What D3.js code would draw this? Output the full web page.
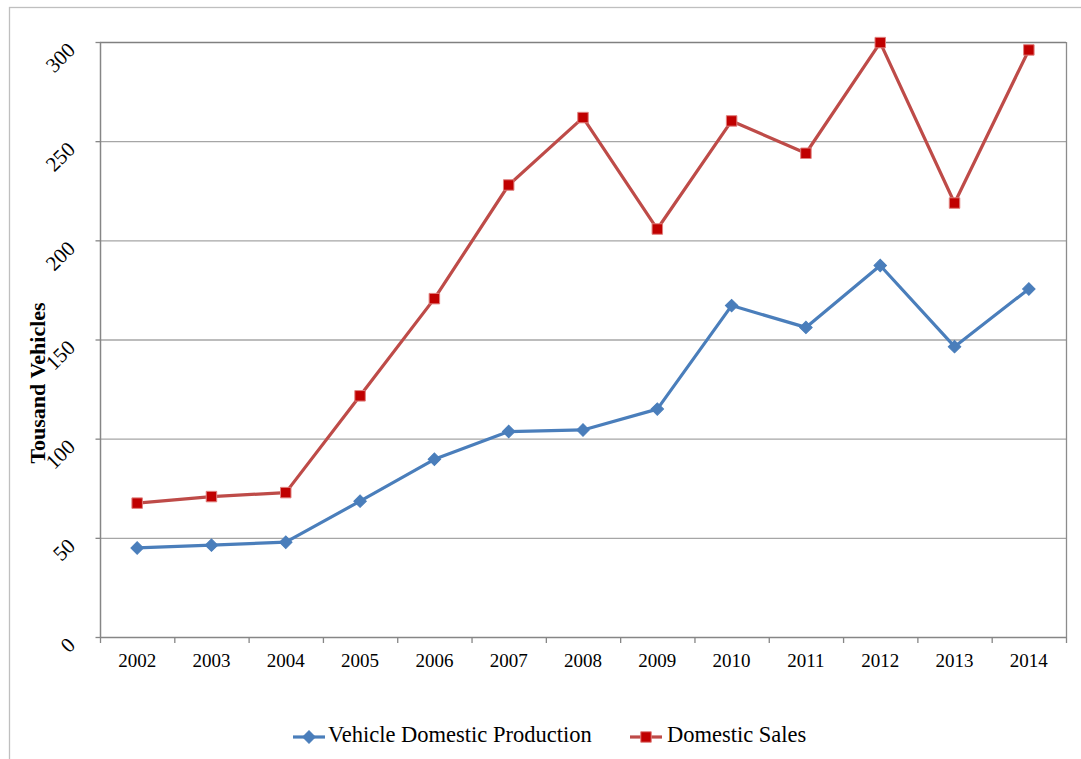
<!DOCTYPE html>
<html>
<head>
<meta charset="utf-8">
<script src="https://cdn.jsdelivr.net/npm/d3@7"></script>
<style>
  html, body { margin: 0; padding: 0; background: #fff; }
  svg { display: block; }
  text { font-family: "Liberation Serif", "Times New Roman", serif; fill: #000; }
</style>
</head>
<body>
<svg id="chart" width="1081" height="759"></svg>
<script>
// Vehicle production and sales, thousand units
const years = ["2002","2003","2004","2005","2006","2007","2008","2009","2010","2011","2012","2013","2014"];
const production = [44.9, 46.3, 47.8, 68.5, 89.6, 103.6, 104.4, 114.9, 167.1, 156.1, 187.3, 146.4, 175.5];
const sales = [67.5, 70.8, 72.8, 121.6, 170.6, 227.9, 261.9, 205.7, 260.2, 243.9, 299.7, 218.8, 296.0];
const yTicks = [0, 50, 100, 150, 200, 250, 300];
const seriesNames = ["Vehicle Domestic Production", "Domestic Sales"];

const svg = d3.select("#chart");
const W = 1081, H = 759;
const m = { left: 100, top: 42, right: 1066, bottom: 637 };

// outer chart frame
svg.append("rect")
  .attr("x", 9.5).attr("y", 7.5)
  .attr("width", W + 20).attr("height", H + 20)
  .attr("fill", "#fff").attr("stroke", "#bfbfbf").attr("stroke-width", 1.3);

const x = d3.scaleBand().domain(years).range([m.left, m.right]).paddingInner(0).paddingOuter(0);
const y = d3.scaleLinear().domain([0, 300]).range([m.bottom, m.top]);

// horizontal gridlines
svg.append("g")
  .selectAll("line").data(yTicks.filter(d => d > 0)).join("line")
  .attr("x1", m.left).attr("x2", m.right)
  .attr("y1", d => y(d) + 0.5).attr("y2", d => y(d) + 0.5)
  .attr("stroke", d => d === 300 ? "#808080" : "#a6a6a6").attr("stroke-width", 1.3);

// right edge of plot area
svg.append("line")
  .attr("x1", m.right + 0.5).attr("x2", m.right + 0.5)
  .attr("y1", m.top).attr("y2", m.bottom)
  .attr("stroke", "#8c8c8c").attr("stroke-width", 1.3);

// y axis
const yAxis = svg.append("g").attr("transform", `translate(${m.left + 0.5},0)`)
  .call(d3.axisLeft(y).tickValues(yTicks).tickSize(5).tickFormat(""));
yAxis.select(".domain").attr("stroke", "#868686").attr("stroke-width", 1.5).attr("d", `M0,${m.top}V${m.bottom + 0.5}`);
yAxis.selectAll(".tick line").attr("stroke", "#868686").attr("stroke-width", 1.3);

svg.append("g").selectAll("text").data(yTicks).join("text")
  .attr("transform", d => `translate(73,${y(d) + 6}) rotate(-45)`)
  .attr("text-anchor", "end")
  .attr("dominant-baseline", "middle")
  .style("font-size", "21px")
  .text(d => d);

// x axis
const xAxis = svg.append("g").attr("transform", `translate(0,${m.bottom + 0.5})`)
  .call(d3.axisBottom(x).tickSize(0).tickFormat(""));
xAxis.select(".domain").attr("stroke", "#868686").attr("stroke-width", 1.5).attr("d", `M${m.left},0H${m.right + 0.5}`);
xAxis.selectAll(".tick").remove();

const bounds = years.map(d => x(d)).concat([m.right]);
svg.append("g").selectAll("line").data(bounds).join("line")
  .attr("x1", d => d + 0.5).attr("x2", d => d + 0.5)
  .attr("y1", m.bottom).attr("y2", m.bottom + 6)
  .attr("stroke", "#868686").attr("stroke-width", 1.3);

svg.append("g").selectAll("text").data(years).join("text")
  .attr("x", d => x(d) + x.bandwidth() / 2)
  .attr("y", 667)
  .attr("text-anchor", "middle")
  .style("font-size", "19px")
  .text(d => d);

// axis title
svg.append("text")
  .attr("transform", "translate(45,383) rotate(-90)")
  .attr("text-anchor", "middle")
  .style("font-size", "22px").style("font-weight", "bold")
  .text("Tousand Vehicles");

const cx = d => x(d) + x.bandwidth() / 2;
const line = d3.line().x(d => cx(d.year)).y(d => y(d.v));

const prodData = years.map((yr, i) => ({ year: yr, v: production[i] }));
const salesData = years.map((yr, i) => ({ year: yr, v: sales[i] }));

const blue = "#4a7ebb", red = "#be4b48", redFill = "#c00000";

svg.append("path").datum(salesData)
  .attr("d", line).attr("fill", "none")
  .attr("stroke", red).attr("stroke-width", 3.2).attr("stroke-linejoin", "round");
svg.append("path").datum(prodData)
  .attr("d", line).attr("fill", "none")
  .attr("stroke", blue).attr("stroke-width", 3.2).attr("stroke-linejoin", "round");

const diamond = d3.symbol().type(d3.symbolSquare).size(78);
svg.append("g").selectAll("path").data(prodData).join("path")
  .attr("transform", d => `translate(${cx(d.year)},${y(d.v)}) rotate(45)`)
  .attr("d", diamond)
  .attr("fill", blue).attr("stroke", blue).attr("stroke-width", 1);

const square = d3.symbol().type(d3.symbolSquare).size(110);
svg.append("g").selectAll("path").data(salesData).join("path")
  .attr("transform", d => `translate(${cx(d.year)},${y(d.v)})`)
  .attr("d", square)
  .attr("fill", redFill).attr("stroke", "#e0807e").attr("stroke-width", 1);

// legend
const legend = svg.append("g");
const legItems = [
  { name: seriesNames[0], x0: 293, color: blue, sym: "diamond", tx: 328 },
  { name: seriesNames[1], x0: 630, color: red, sym: "square", tx: 667 }
];
const ly = 737;
legItems.forEach(it => {
  legend.append("line")
    .attr("x1", it.x0).attr("x2", it.x0 + 32)
    .attr("y1", ly).attr("y2", ly)
    .attr("stroke", it.color).attr("stroke-width", 3.2);
  if (it.sym === "diamond") {
    legend.append("path")
      .attr("transform", `translate(${it.x0 + 16},${ly}) rotate(45)`)
      .attr("d", diamond).attr("fill", blue).attr("stroke", blue);
  } else {
    legend.append("path")
      .attr("transform", `translate(${it.x0 + 16},${ly})`)
      .attr("d", square).attr("fill", redFill).attr("stroke", "#e0807e");
  }
  legend.append("text")
    .attr("x", it.tx).attr("y", ly)
    .attr("dominant-baseline", "middle")
    .style("font-size", "22.5px")
    .text(it.name);
});
</script>
</body>
</html>
